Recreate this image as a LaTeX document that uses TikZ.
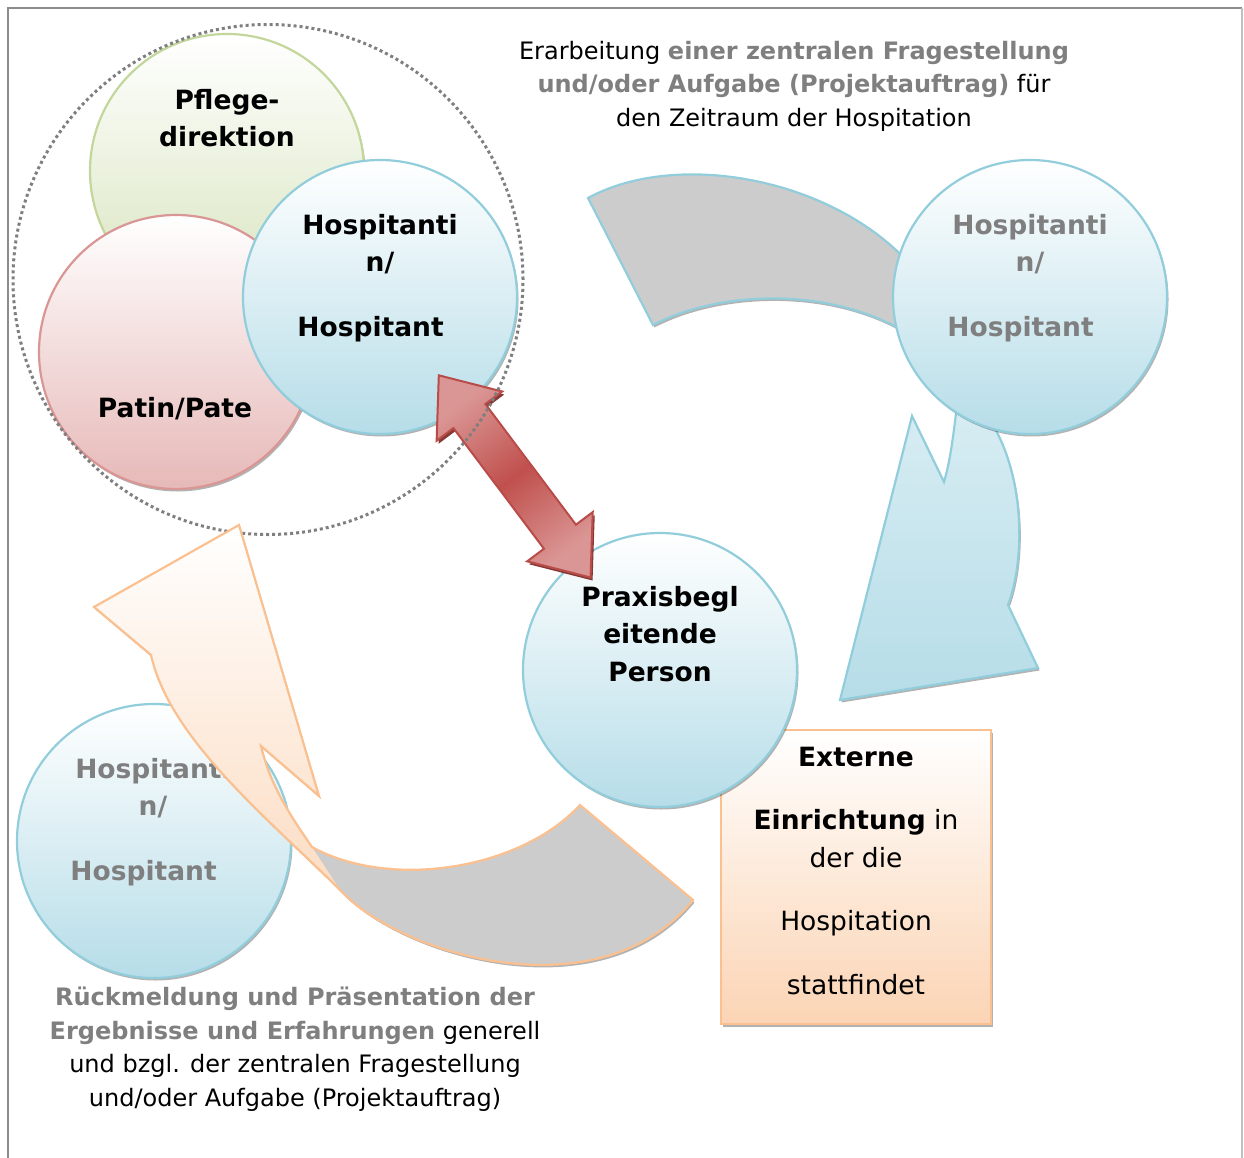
\documentclass[tikz,border=0pt]{standalone}
\usepackage{fontspec}
\setmainfont{DejaVu Sans}
\usetikzlibrary{calc,shadows,positioning}

\definecolor{framegray}{RGB}{140,140,140}
\definecolor{textgray}{RGB}{127,127,127}
\definecolor{bubbleblue}{RGB}{146,205,220}
\definecolor{bubblefill}{RGB}{182,221,232}
\definecolor{greenedge}{RGB}{195,214,155}
\definecolor{greenfill}{RGB}{215,228,189}
\definecolor{rededge}{RGB}{217,150,148}
\definecolor{redfill}{RGB}{230,185,184}
\definecolor{orangeedge}{RGB}{250,192,144}
\definecolor{orangefill}{RGB}{251,212,180}
\definecolor{tailgray}{RGB}{204,204,204}
\definecolor{arrowmid}{RGB}{192,80,77}
\definecolor{arrowlight}{RGB}{218,150,148}
\definecolor{arrowedge}{RGB}{185,75,72}
\definecolor{arrowdark}{RGB}{120,35,32}

\tikzset{
  softshadow/.style={drop shadow={shadow xshift=1.5pt,shadow yshift=-2.5pt,opacity=.3,fill=black}},
  bubble/.style={circle, minimum size=274pt, inner sep=0pt, line width=2.2pt, softshadow},
  bluebub/.style={bubble, draw=bubbleblue, top color=white, bottom color=bubblefill},
  greenbub/.style={bubble, draw=greenedge, top color=white, bottom color=greenfill},
  redbub/.style={bubble, draw=rededge, top color=white, bottom color=redfill},
  bublbl/.style={font=\fontsize{26.5}{37.5}\selectfont\bfseries, align=center, inner sep=0pt},
  greylbl/.style={bublbl, text=textgray},
  boxlbl/.style={font=\fontsize{26.5}{37.5}\selectfont, align=center, inner sep=0pt},
  para/.style={font=\fontsize{24}{33.5}\selectfont, align=center, inner sep=0pt},
  extbox/.style={rectangle, draw=orangeedge, line width=2.2pt, top color=white, bottom color=orangefill,
    minimum width=270pt, minimum height=294pt, inner sep=0pt, softshadow},
  bluetail/.style={draw=bubbleblue, line width=2.2pt, fill=tailgray, softshadow},
  bluehead/.style={draw=bubbleblue, line width=2.2pt, top color=bubblefill!50!white, bottom color=bubblefill, softshadow},
  orangeline/.style={draw=orangeedge, line width=2.2pt, line join=miter},
  redarrow/.style={draw=arrowedge, line width=2pt, top color=arrowlight, bottom color=arrowlight,
    middle color=arrowmid, shading angle=37,
    drop shadow={shadow xshift=2pt,shadow yshift=-3pt,opacity=.9,fill=arrowdark}},
  dotring/.style={circle, draw=textgray, line width=3pt, dash pattern=on 3pt off 3pt,
    minimum size=510pt, inner sep=0pt},
}

\begin{document}
\begin{tikzpicture}[x=1pt,y=-1pt]
  \useasboundingbox (0,0) rectangle (1244,1158);
  % page frame
  \draw[framegray, line width=2.5pt] (8,1158) -- (8,8) -- (1242,8);
  \draw[framegray!55, line width=1.5pt] (1242,8) -- (1242,1158);

  % team in the house
  \node[greenbub] (pflege) at (227,171) {};
  \node[redbub] (pate) at (176,352) {};
  \node[bluebub] (hosp) at (380,297) {};
  \node[bublbl] (pflegeTxt) at (227,118) {Pflege-\\direktion};
  \node[bublbl] (pateTxt) at (175,409) {Patin/Pate};
  \node[bublbl] (hospTxt) at (380,278) {Hospitanti\\n/\\[27pt]Hospitant\phantom{n}};

  % circular arrow, upper right
  \path[bluetail] (588,198) .. controls (680,148) and (840,180) .. (915,270)
    -- (935,320) -- (915,338) .. controls (835,285) and (720,290) .. (653,325) -- cycle;
  \path[bluehead] (960,380) .. controls (955,420) and (952,455) .. (944,482)
    -- (912,416) -- (840,700) -- (1038,668) -- (1008,605)
    .. controls (1025,560) and (1025,480) .. (993,425) -- (985,380) -- cycle;
  \node[bluebub] (hospR) at (1030,297) {};
  \node[greylbl] (hospRTxt) at (1030,278) {Hospitanti\\n/\\[27pt]Hospitant\phantom{n}};

  % host institution and mentor
  \node[extbox] (extern) at (856,877) {};
  \node[boxlbl] (externTxt) at (856,871)
    {\textbf{Externe}\\[26pt]\textbf{Einrichtung} in\\der die\\[26pt]Hospitation\\[26pt]stattfindet};
  \node[bluebub] (praxis) at (660,670) {};
  \node[bublbl] (praxisTxt) at (660,634) {Praxisbegl\\eitende\\Person};

  \node[bluebub] (hospL) at (154,841) {};
  \node[greylbl] (hospLTxt) at (153,822) {Hospitanti\\n/\\[27pt]Hospitant\phantom{n}};

  % double arrow between trainee and mentor
  \coordinate (redA) at ($(hosp)!0.21!(praxis)$);
  \coordinate (redB) at ($(hosp)!0.752!(praxis)$);
  \path[redarrow] (redA)
    -- ($(redA)!51pt!(redB)!41pt!90:(redB)$)
    -- ($(redA)!51pt!(redB)!20pt!90:(redB)$)
    -- ($(redB)!51pt!(redA)!20pt!-90:(redA)$)
    -- ($(redB)!51pt!(redA)!41pt!-90:(redA)$)
    -- (redB)
    -- ($(redB)!51pt!(redA)!41pt!90:(redA)$)
    -- ($(redB)!51pt!(redA)!20pt!90:(redA)$)
    -- ($(redA)!51pt!(redB)!20pt!-90:(redB)$)
    -- ($(redA)!51pt!(redB)!41pt!-90:(redB)$)
    -- cycle;

  \node[dotring] (team) at (268,279.5) {};

  % circular arrow, lower left
  \path[fill=tailgray, softshadow, save path=\feedbackpath]
    (239,525) -- (94,607) -- (151,655) .. controls (170,740) and (270,820) .. (340,890)
    .. controls (400,955) and (600,1015) .. (693,900) -- (580,805)
    .. controls (520,870) and (390,890) .. (312,847)
    .. controls (290,815) and (270,785) .. (261,746) -- (319,796) -- cycle;
  \shade[top color=white, bottom color=orangefill!80!white]
    (239,525) -- (94,607) -- (151,655) .. controls (170,740) and (270,820) .. (340,890)
    -- (312,847) .. controls (290,815) and (270,785) .. (261,746) -- (319,796) -- cycle;
  \draw[orangeline, use path=\feedbackpath];

  % captions
  \node[para] (taskTxt) at (794,86)
    {Erarbeitung \textcolor{textgray}{\textbf{einer zentralen Fragestellung}}\\
     \textcolor{textgray}{\textbf{und/oder Aufgabe (Projektauftrag)}} für\\
     den Zeitraum der Hospitation};
  \node[para] (feedbackTxt) at (295,1049)
    {\textcolor{textgray}{\textbf{Rückmeldung und Präsentation der}}\\
     \textcolor{textgray}{\textbf{Ergebnisse und Erfahrungen}} generell\\
     und bzgl. der zentralen Fragestellung\\
     und/oder Aufgabe (Projektauftrag)};
\end{tikzpicture}
\end{document}
